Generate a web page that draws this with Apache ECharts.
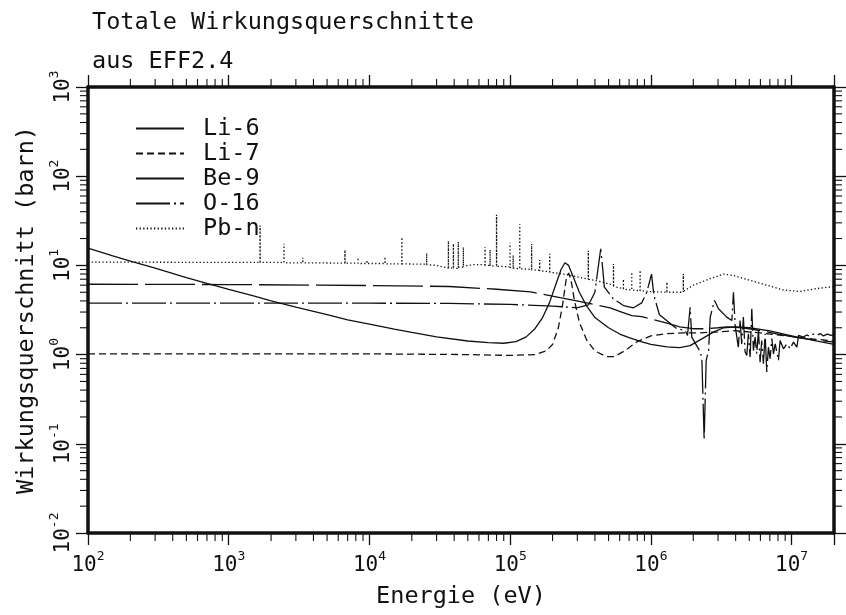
<!DOCTYPE html>
<html>
<head>
<meta charset="utf-8">
<script src="https://cdn.jsdelivr.net/npm/echarts@6.0.0/dist/echarts.min.js"></script>
<style>
html, body { margin: 0; padding: 0; background: #fff; }
#chart { width: 846px; height: 615px; }
</style>
</head>
<body>
<div id="chart"></div>
<script>
var FONT = 'DejaVu Sans Mono';
var INK = '#111';

// Energie (eV) / Wirkungsquerschnitt (barn)
var li6 = [[100, 15.6], [150, 12.8], [200, 11.2], [300, 9.3], [500, 7.3], [700, 6.3], [1000, 5.4], [1500, 4.55],
  [2000, 4.0], [3000, 3.4], [5000, 2.8], [7000, 2.45], [10000, 2.2], [15000, 1.93], [20000, 1.77], [30000, 1.58],
  [50000, 1.42], [70000, 1.36], [90000, 1.34], [110000, 1.4], [130000, 1.58], [150000, 1.95], [170000, 2.6],
  [190000, 3.8], [210000, 6.0], [230000, 9.0], [245000, 10.7], [260000, 10.0], [280000, 7.5], [310000, 5.0],
  [350000, 3.5], [400000, 2.6], [500000, 2.0], [600000, 1.7], [700000, 1.55], [850000, 1.4], [1.0e6, 1.3],
  [1.3e6, 1.22], [1.6e6, 1.2], [1.9e6, 1.26], [2.3e6, 1.5], [2.8e6, 1.8], [3.3e6, 2.0], [4.0e6, 2.05],
  [5.0e6, 2.0], [7.0e6, 1.85], [1.0e7, 1.62], [1.4e7, 1.45], [2.0e7, 1.3]];

var li7 = [[100, 1.02], [1000, 1.02], [10000, 1.02], [50000, 1.0], [100000, 0.98], [150000, 1.0], [180000, 1.1],
  [200000, 1.3], [220000, 2.0], [235000, 3.5], [250000, 7.0], [260000, 8.2], [270000, 7.0], [285000, 4.2],
  [310000, 2.3], [350000, 1.45], [400000, 1.1], [480000, 0.95], [550000, 0.95], [650000, 1.1], [800000, 1.4],
  [1.0e6, 1.62], [1.3e6, 1.72], [1.7e6, 1.75], [2.2e6, 1.75], [3.0e6, 1.8], [4.0e6, 1.85], [6.0e6, 1.75],
  [1.0e7, 1.6], [1.4e7, 1.5], [2.0e7, 1.42]];

var be9 = [[100, 6.15], [1000, 6.1], [10000, 5.95], [37000, 5.8], [80000, 5.4], [140000, 5.05], [226000, 4.35],
  [350000, 3.8], [513000, 3.35], [620000, 3.0], [732000, 2.74], [861000, 2.66], [1.0e6, 2.5], [1.3e6, 2.25],
  [1.6e6, 2.05], [2.0e6, 1.95], [2.5e6, 1.95], [3.0e6, 2.0], [3.5e6, 2.05], [4.5e6, 2.0], [6.0e6, 1.85],
  [8.0e6, 1.7], [1.1e7, 1.55], [1.5e7, 1.45], [2.0e7, 1.38]];

var o16 = [[100, 3.78], [1000, 3.78], [10000, 3.77], [37000, 3.75], [100000, 3.65], [200000, 3.5], [297000, 3.35],
  [360000, 3.6], [400000, 5.0], [420000, 9.0], [440000, 15.3], [455000, 9.0], [467000, 5.7], [542000, 4.2],
  [638000, 3.55], [752000, 3.35], [860000, 3.8], [935000, 5.0], [1.01e6, 8.0], [1.05e6, 4.6], [1.15e6, 2.8],
  [1.3e6, 2.4], [1.53e6, 1.95], [1.75e6, 1.87], [1.82e6, 1.64], [1.9e6, 3.4], [1.95e6, 1.57], [2.18e6, 1.16],
  [2.3e6, 0.94], [2.39e6, 0.11], [2.47e6, 0.86], [2.57e6, 1.11], [2.64e6, 2.63], [2.83e6, 4.04], [3.02e6, 3.26],
  [3.46e6, 2.63], [3.76e6, 2.41], [3.86e6, 5.0], [3.97e6, 2.1],
  [4.07e6, 2.03], [4.18e6, 1.21], [4.30e6, 2.41], [4.42e6, 1.32], [4.54e6, 2.63], [4.67e6, 1.07], [4.80e6, 0.98],
  [4.93e6, 1.71], [5.07e6, 0.94], [5.21e6, 3.26], [5.35e6, 1.11], [5.50e6, 1.57], [5.65e6, 1.02], [5.81e6, 1.87],
  [5.97e6, 0.82], [6.13e6, 1.44], [6.30e6, 0.79], [6.48e6, 1.71], [6.66e6, 0.64], [6.84e6, 1.21], [7.03e6, 0.9],
  [7.23e6, 1.51], [7.43e6, 1.02], [7.64e6, 1.32], [8.06e6, 0.86], [8.28e6, 1.44], [8.75e6, 1.16], [9.25e6, 1.32],
  [9.76e6, 1.16], [1.03e7, 1.38], [1.09e7, 1.21], [1.12e7, 1.64], [1.21e7, 1.57], [1.28e7, 1.66], [1.35e7, 1.6],
  [1.43e7, 1.7], [1.51e7, 1.64], [1.6e7, 1.72], [1.68e7, 1.62], [1.8e7, 1.7], [1.9e7, 1.64], [2.0e7, 1.68]];

var pbn = [[100, 10.9], [1000, 10.8], [1670, 10.8], [1670, 28], [1670, 10.8], [2470, 10.8], [2470, 17.5], [2470, 10.7],
  [3360, 10.7], [3360, 12.2], [3360, 10.7], [6700, 10.6], [6700, 14.9], [6700, 10.6], [8300, 10.6], [8300, 12.2],
  [8300, 10.5], [9600, 10.5], [9600, 11.5], [9600, 10.5], [12900, 10.5], [12900, 12.5], [12900, 10.4],
  [17000, 10.4], [17000, 20.6], [17000, 10.4], [25500, 10.3], [25500, 13.7], [25500, 10.2], [30000, 10.0],
  [36400, 9.3], [36400, 18.9], [36400, 9.5], [39500, 9.3], [39500, 17.5], [39500, 9.4], [42800, 9.2], [42800, 18.3],
  [42800, 9.5], [46500, 9.6], [46500, 16], [46500, 9.8], [55000, 10.2], [66300, 10.2], [66300, 16], [66300, 10.0],
  [72000, 10.0], [72000, 15], [72000, 9.9], [80000, 9.9], [80000, 37], [80000, 9.8], [90000, 9.7], [99800, 9.6],
  [99800, 18], [99800, 9.5], [105000, 9.4], [105000, 13], [105000, 9.3], [117000, 9.2], [117000, 29], [117000, 9.2],
  [142000, 9.0], [142000, 17.4], [142000, 8.9], [162000, 8.8], [162000, 11.5], [162000, 8.7], [191000, 8.5],
  [191000, 13.5], [191000, 8.4], [250000, 7.9], [359000, 7.0], [359000, 14.6], [359000, 7.0], [435000, 6.6],
  [542000, 6.0], [542000, 10.4], [542000, 5.9], [572000, 5.7], [638000, 5.5], [638000, 7.0], [638000, 5.4],
  [731000, 5.3], [731000, 8.4], [731000, 5.3], [838000, 5.2], [838000, 8.8], [838000, 5.2], [986000, 5.1],
  [1.3e6, 5.0], [1.3e6, 6.5], [1.3e6, 5.0], [1.7e6, 5.0], [1.7e6, 8.0], [1.7e6, 5.1], [2.0e6, 6.0], [2.64e6, 7.1],
  [3.28e6, 8.0], [3.86e6, 7.7], [5.07e6, 6.8], [6.66e6, 6.0], [8.75e6, 5.3], [1.15e7, 5.1], [1.51e7, 5.5], [2.0e7, 5.8]];

var xExp = [2, 3, 4, 5, 6, 7];
var yExp = [-2, -1, 0, 1, 2, 3];
var xMin = 100, xMax = 2e7, yMin = 0.01, yMax = 1000;

// Zwischenstriche 2..9 je Dekade
var xMinor = [];
var yMinor = [];
for (var d = 2; d <= 7; d++) {
  for (var m = 2; m <= 9; m++) {
    var v = m * Math.pow(10, d);
    if (v < xMax) xMinor.push([v, 1]);
  }
}
for (var d2 = -2; d2 <= 2; d2++) {
  for (var m2 = 2; m2 <= 9; m2++) {
    yMinor.push([100, m2 * Math.pow(10, d2)]);
  }
}

function powLabel(exps) {
  return function (val) {
    var e = Math.round(Math.log(val) / Math.LN10);
    if (Math.abs(Math.log(val) / Math.LN10 - e) > 1e-6) return '';
    if (exps.indexOf(e) < 0) return '';
    return '{b|10}{s|' + e + '}';
  };
}
var richPow = {
  b: { fontFamily: FONT, fontSize: 21, color: INK, lineHeight: 26, verticalAlign: 'bottom' },
  s: { fontFamily: FONT, fontSize: 13, color: INK, lineHeight: 26, verticalAlign: 'top', padding: [0, 0, 10, 0] }
};

function xTicks(params, api) {
  var v = api.value(0);
  var b = api.coord([v, yMin]);
  var t = api.coord([v, yMax]);
  return { type: 'group', children: [
    { type: 'line', shape: { x1: b[0], y1: b[1], x2: b[0], y2: b[1] + 8 }, style: { stroke: INK, lineWidth: 1.1 } },
    { type: 'line', shape: { x1: t[0], y1: t[1], x2: t[0], y2: t[1] - 8 }, style: { stroke: INK, lineWidth: 1.1 } }
  ] };
}
function yTicks(params, api) {
  var v = api.value(1);
  var l = api.coord([xMin, v]);
  var r = api.coord([xMax, v]);
  return { type: 'group', children: [
    { type: 'line', shape: { x1: l[0], y1: l[1], x2: l[0] - 8, y2: l[1] }, style: { stroke: INK, lineWidth: 1.1 } },
    { type: 'line', shape: { x1: r[0], y1: r[1], x2: r[0] + 8, y2: r[1] }, style: { stroke: INK, lineWidth: 1.1 } }
  ] };
}

function lineSeries(name, data, type) {
  return {
    name: name, type: 'line', data: data, symbol: 'none', animation: false,
    lineStyle: { color: INK, width: 1.3, type: type },
    itemStyle: { color: INK },
    z: 3
  };
}

var frameAxis = {
  type: 'log', logBase: 10,
  axisLine: { show: true, lineStyle: { color: INK, width: 3.5 } },
  axisTick: { show: true, inside: false, length: 12, lineStyle: { color: INK, width: 1.3 } },
  splitLine: { show: false }
};

var chart = echarts.init(document.getElementById('chart'));
chart.setOption({
  backgroundColor: '#fff',
  animation: false,
  title: {
    text: 'Totale Wirkungsquerschnitte\naus EFF2.4',
    left: 87, top: -2,
    textStyle: { fontFamily: FONT, fontSize: 23.5, fontWeight: 'normal', color: INK, lineHeight: 39 }
  },
  legend: {
    data: ['Li-6', 'Li-7', 'Be-9', 'O-16', 'Pb-n'],
    orient: 'vertical', left: 130, top: 111,
    itemWidth: 48, itemHeight: 14, itemGap: 0,
    itemStyle: { opacity: 0 },
    textStyle: { fontFamily: FONT, fontSize: 23.5, color: INK, lineHeight: 25, padding: [0, 0, 0, 14] }
  },
  grid: { left: 88, right: 12, top: 87, bottom: 82, containLabel: false },
  xAxis: [
    Object.assign({}, frameAxis, {
      position: 'bottom', min: xMin, max: xMax,
      name: 'Energie (eV)', nameLocation: 'middle', nameGap: 52,
      nameTextStyle: { fontFamily: FONT, fontSize: 23.5, color: INK },
      axisLabel: { show: true, showMinLabel: true, showMaxLabel: true, margin: 17, formatter: powLabel(xExp), rich: richPow }
    }),
    Object.assign({}, frameAxis, {
      position: 'top', min: xMin, max: xMax, axisLabel: { show: false }
    })
  ],
  yAxis: [
    Object.assign({}, frameAxis, {
      position: 'left', min: yMin, max: yMax,
      name: 'Wirkungsquerschnitt (barn)', nameLocation: 'middle', nameGap: 49, nameRotate: 90,
      nameTextStyle: { fontFamily: FONT, fontSize: 23.5, color: INK },
      axisLabel: { show: true, rotate: 90, margin: 14, formatter: powLabel(yExp), rich: richPow }
    }),
    Object.assign({}, frameAxis, {
      position: 'right', min: yMin, max: yMax, axisLabel: { show: false }
    })
  ],
  series: [
    lineSeries('Li-6', li6, 'solid'),
    lineSeries('Li-7', li7, [7, 4]),
    lineSeries('Be-9', be9, [50, 7]),
    lineSeries('O-16', o16, [34, 4, 2, 4]),
    lineSeries('Pb-n', pbn, [1.3, 2.3]),
    { type: 'custom', data: xMinor, renderItem: xTicks, clip: false, silent: true, z: 5 },
    { type: 'custom', data: yMinor, renderItem: yTicks, clip: false, silent: true, z: 5 }
  ]
});
</script>
</body>
</html>
